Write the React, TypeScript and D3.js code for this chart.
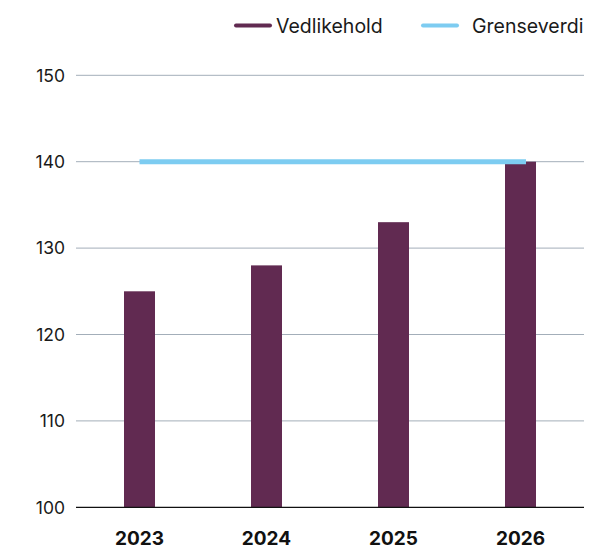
import * as d3 from "d3";
import { useEffect, useRef } from "react";

// data
const years = ["2023", "2024", "2025", "2026"];
const vedlikehold = [125, 128, 133, 140];
const grenseverdi = [140, 140, 140, 140];
const yTicks = [100, 110, 120, 130, 140, 150];

const W = 589;
const H = 548;

const barColor = "#612A51";
const lineColor = "#7DCCF1";
const font = "Inter, Roboto, sans-serif";

export default function App() {
    const ref = useRef<SVGSVGElement>(null);

    useEffect(() => {
        const svg = d3.select(ref.current);
        svg.selectAll("*").remove();

        // plot area
        const left = 76, right = 584, top = 75.3, bottom = 507.3;

        const y = d3.scaleLinear().domain([100, 150]).range([bottom, top]);
        const x = d3.scaleBand<string>()
            .domain(years)
            .range([left, right])
            .paddingInner(0.756)
            .paddingOuter(0.378);
        // the limit line sits on its own axis
        const xLine = d3.scalePoint<string>().domain(years).range([x(years[0])! + x.bandwidth() / 2, 526]);

        // grid
        svg.append("g")
            .selectAll("line")
            .data(yTicks.filter(t => t !== 100))
            .enter().append("line")
            .attr("x1", left).attr("x2", right)
            .attr("y1", d => y(d)).attr("y2", d => y(d))
            .attr("stroke", "#A3AEB9")
            .attr("stroke-width", 1);

        // y labels
        svg.append("g")
            .selectAll("text")
            .data(yTicks)
            .enter().append("text")
            .attr("x", 65)
            .attr("y", d => y(d))
            .attr("dy", "0.36em")
            .attr("text-anchor", "end")
            .attr("font-family", font)
            .attr("font-size", 17.5)
            .attr("fill", "#1a1a1a")
            .text(d => d);

        // bars
        svg.append("g")
            .selectAll("rect")
            .data(years)
            .enter().append("rect")
            .attr("x", d => x(d)!)
            .attr("width", x.bandwidth())
            .attr("y", (d, i) => y(vedlikehold[i]))
            .attr("height", (d, i) => bottom - y(vedlikehold[i]))
            .attr("fill", barColor);

        // baseline
        svg.append("line")
            .attr("x1", left).attr("x2", right)
            .attr("y1", bottom).attr("y2", bottom)
            .attr("stroke", "#111")
            .attr("stroke-width", 1.3);

        // limit line
        const line = d3.line<number>()
            .x((d, i) => xLine(years[i])!)
            .y(d => y(d));
        svg.append("path")
            .attr("d", line(grenseverdi))
            .attr("fill", "none")
            .attr("stroke", lineColor)
            .attr("stroke-width", 5);

        // x labels
        svg.append("g")
            .selectAll("text")
            .data(years)
            .enter().append("text")
            .attr("x", d => x(d)! + x.bandwidth() / 2)
            .attr("y", 544.5)
            .attr("text-anchor", "middle")
            .attr("font-family", font)
            .attr("font-size", 19)
            .attr("font-weight", 700)
            .attr("fill", "#111")
            .text(d => d);

        // legend
        const legend = [
            { name: "Vedlikehold", color: barColor, x: 236, tx: 276 },
            { name: "Grenseverdi", color: lineColor, x: 423, tx: 472 },
        ];
        const lg = svg.append("g");
        legend.forEach(l => {
            lg.append("line")
                .attr("x1", l.x).attr("x2", l.x + 34)
                .attr("y1", 25.5).attr("y2", 25.5)
                .attr("stroke", l.color)
                .attr("stroke-width", 4)
                .attr("stroke-linecap", "round");
            lg.append("text")
                .attr("x", l.tx)
                .attr("y", 25.5)
                .attr("dy", "0.36em")
                .attr("font-family", font)
                .attr("font-size", 19.5)
                .attr("fill", "#1a1a1a")
                .text(l.name);
        });
    }, []);

    return <svg ref={ref} width={W} height={H} style={{ display: "block", position: "absolute", left: 0, top: 0 }}></svg>;
}
